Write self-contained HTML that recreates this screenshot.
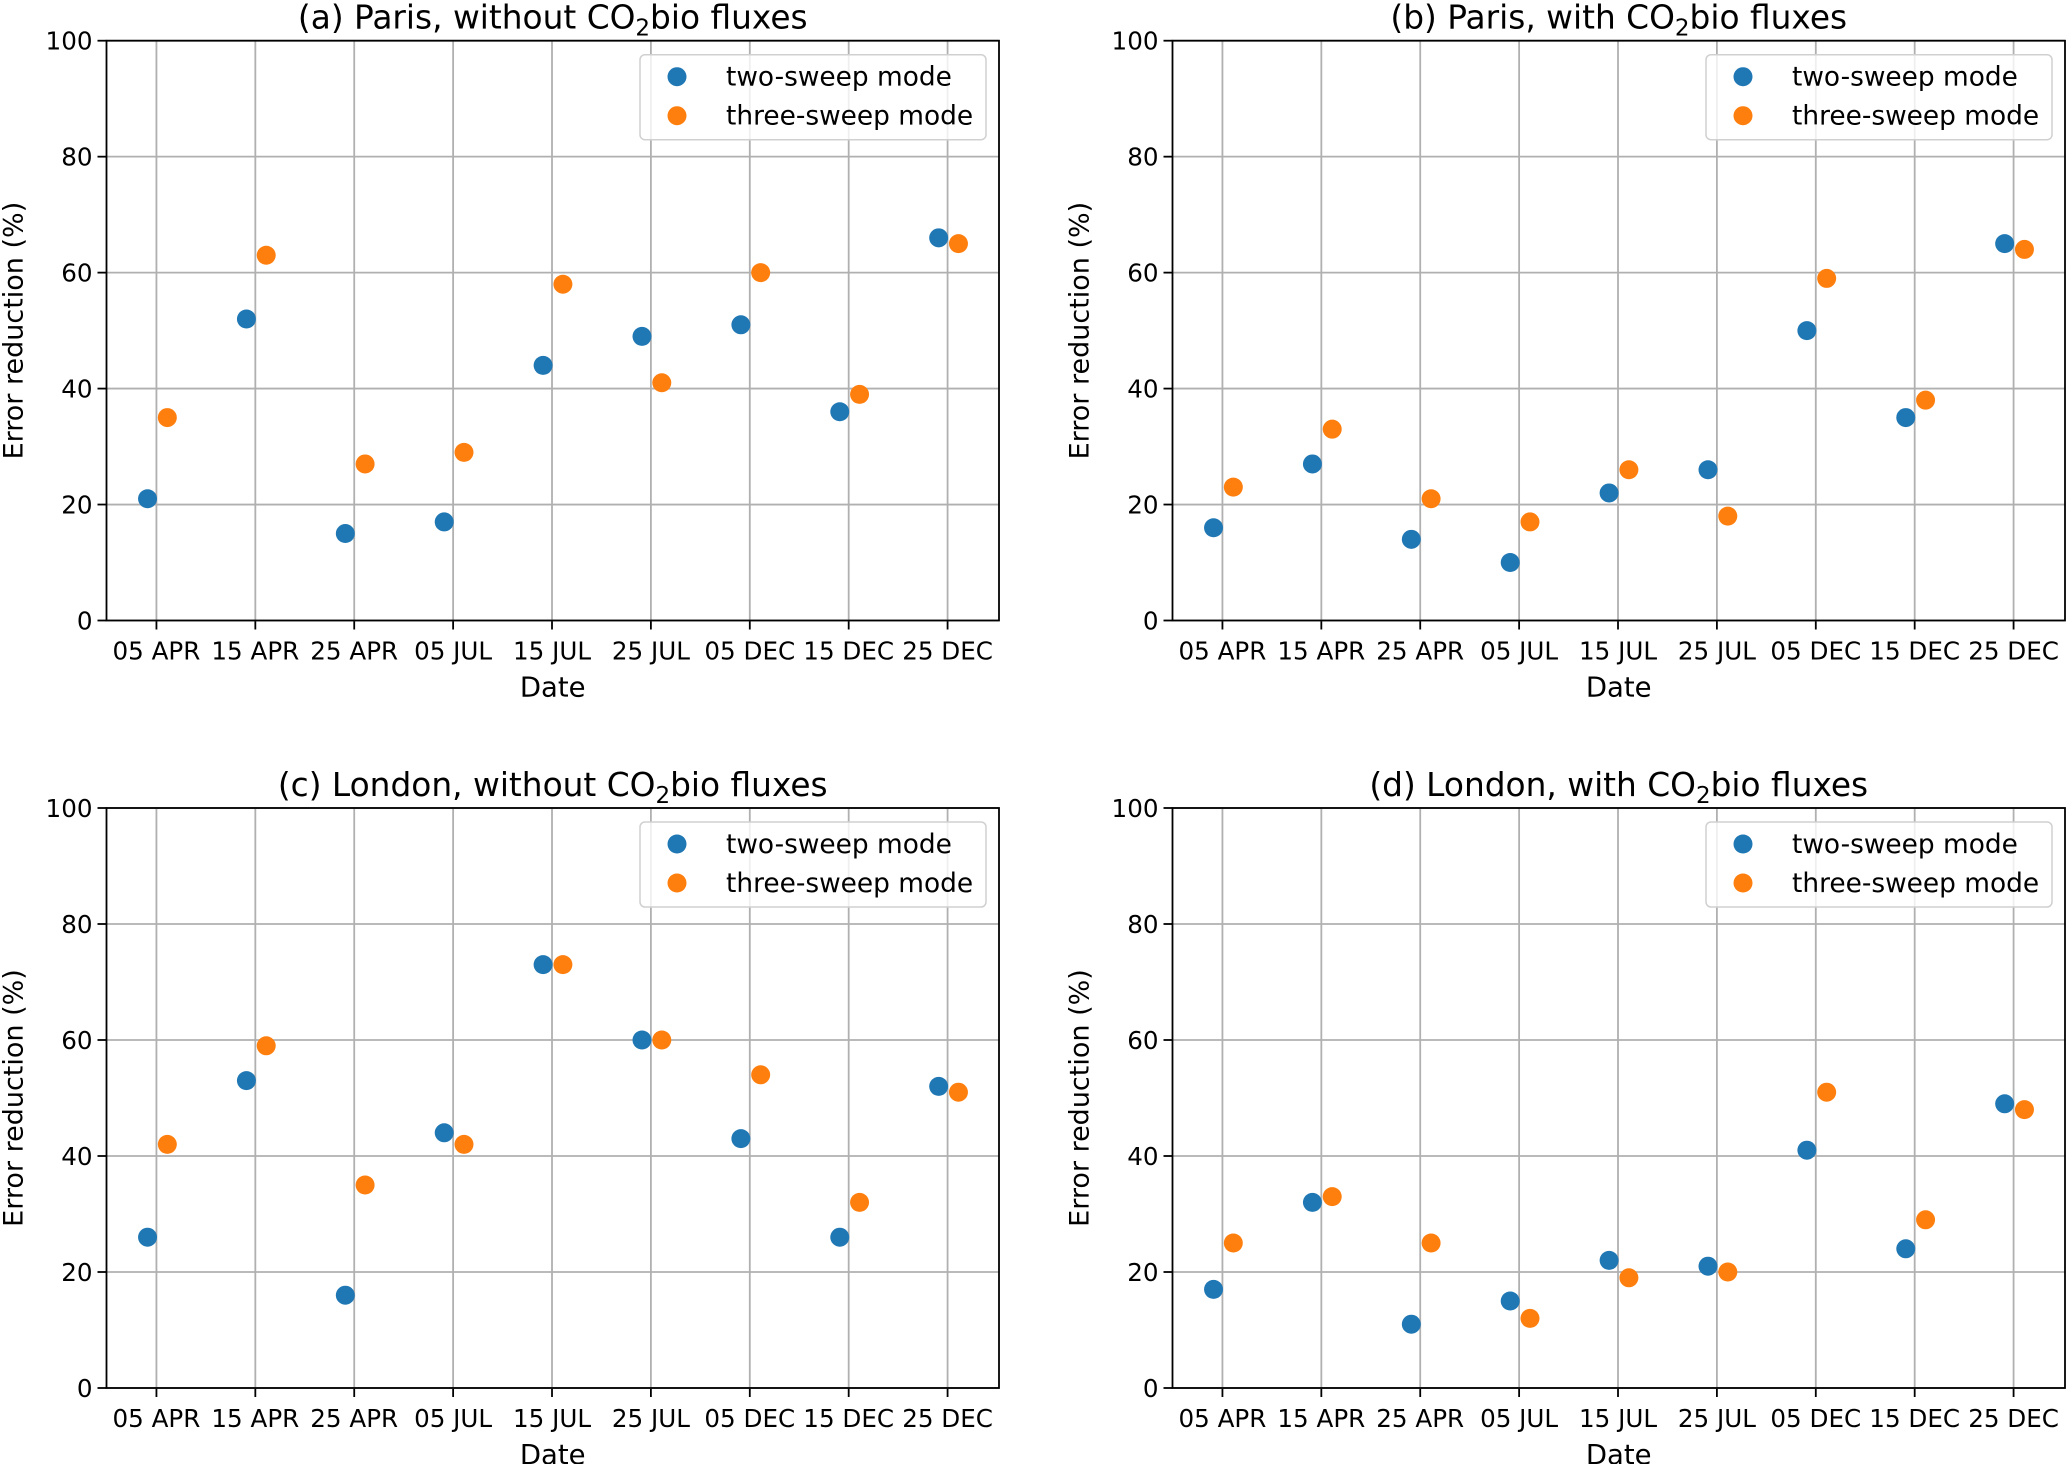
<!DOCTYPE html>
<html><head><meta charset="utf-8"><style>
html,body{margin:0;padding:0;background:#fff;}
svg{display:block;font-family:"DejaVu Sans","Liberation Sans",sans-serif;}
</style></head><body>
<svg id="fig" width="2067" height="1464" viewBox="0 0 2067 1464" xmlns="http://www.w3.org/2000/svg"></svg>
<script>
const dateLabels = ["05 APR","15 APR","25 APR","05 JUL","15 JUL","25 JUL","05 DEC","15 DEC","25 DEC"];
const yTicks = [0,20,40,60,80,100];
const panelTitles = [["(a) Paris, without CO","bio fluxes"],["(b) Paris, with CO","bio fluxes"],["(c) London, without CO","bio fluxes"],["(d) London, with CO","bio fluxes"]];
const twoA = [21,52,15,17,44,49,51,36,66];
const threeA = [35,63,27,29,58,41,60,39,65];
const twoB = [16,27,14,10,22,26,50,35,65];
const threeB = [23,33,21,17,26,18,59,38,64];
const twoC = [26,53,16,44,73,60,43,26,52];
const threeC = [42,59,35,42,73,60,54,32,51];
const twoD = [17,32,11,15,22,21,41,24,49];
const threeD = [25,33,25,12,19,20,51,29,48];

const NS = "http://www.w3.org/2000/svg";
const svg = document.getElementById("fig");
function mk(tag, attrs, parent){
  const e = document.createElementNS(NS, tag);
  for (const k in attrs) e.setAttribute(k, attrs[k]);
  (parent||svg).appendChild(e);
  return e;
}
const panels = [
  {L:106.5,R:999,T:40.7,B:620.5,two:twoA,three:threeA,name:"panel-a"},
  {L:1172.5,R:2065,T:40.7,B:620.5,two:twoB,three:threeB,name:"panel-b"},
  {L:106.5,R:999,T:808,B:1388,two:twoC,three:threeC,name:"panel-c"},
  {L:1172.5,R:2065,T:808,B:1388,two:twoD,three:threeD,name:"panel-d"}
];
const BLUE="#1f77b4", ORANGE="#ff7f0e";
panels.forEach((p,pi)=>{
  const g = mk("g",{});
  
  
  const xmin=-5.05, xmax=85.2;
  const xs = d => p.L + (d - xmin)/(xmax - xmin)*(p.R - p.L);
  const ys = v => p.B - v/100*(p.B - p.T);
  dateLabels.forEach((lab,i)=>{
    const x = xs(i*10);
    const gl = mk("line",{x1:x,x2:x,y1:p.T,y2:p.B,stroke:"#b0b0b0","stroke-width":1.8},g);
    
    
    const tk = mk("line",{x1:x,x2:x,y1:p.B,y2:p.B+9,stroke:"#000","stroke-width":1.8},g);
    
    
    const t = mk("text",{x:x,y:p.B+39,"text-anchor":"middle","font-size":24.6,fill:"#000"},g);
    t.textContent = lab;
    
    
  });
  yTicks.forEach(v=>{
    const y = ys(v);
    const gl = mk("line",{x1:p.L,x2:p.R,y1:y,y2:y,stroke:"#b0b0b0","stroke-width":1.8},g);
    
    
    const tk = mk("line",{x1:p.L-9,x2:p.L,y1:y,y2:y,stroke:"#000","stroke-width":1.8},g);
    
    
    const t = mk("text",{x:p.L-14,y:y+9,"text-anchor":"end","font-size":24.6,fill:"#000"},g);
    t.textContent = v;
    
    
  });
  p.two.forEach((v,i)=>{
    const c = mk("circle",{cx:xs(i*10-0.9),cy:ys(v),r:9.5,fill:BLUE},g);
    
    
  });
  p.three.forEach((v,i)=>{
    const c = mk("circle",{cx:xs(i*10+1.1),cy:ys(v),r:9.5,fill:ORANGE},g);
    
    
  });
  const fr = mk("rect",{x:p.L,y:p.T,width:p.R-p.L,height:p.B-p.T,fill:"none",stroke:"#000","stroke-width":1.8},g);
  
  
  const lx = p.R-359, ly = p.T+14;
  const lg = mk("g",{},g);
  
  
  mk("rect",{x:lx,y:ly,width:346,height:85,rx:5,fill:"rgba(255,255,255,0.8)",stroke:"#d0d0d0","stroke-width":1.5},lg);
  [["two-sweep mode",BLUE],["three-sweep mode",ORANGE]].forEach((e,k)=>{
    const en = mk("g",{},lg);
    
    
    mk("circle",{cx:lx+37,cy:ly+22+k*39,r:9.5,fill:e[1]},en);
    const t = mk("text",{x:lx+86,y:ly+31+k*39,"font-size":26.4,fill:"#000"},en);
    t.textContent = e[0];
  });
  const tt = mk("text",{x:(p.L+p.R)/2,y:p.T-12,"text-anchor":"middle","font-size":32.8,fill:"#000"},g);
  
  
  const s1 = document.createElementNS(NS,"tspan"); s1.textContent = panelTitles[pi][0]; tt.appendChild(s1);
  const s2 = document.createElementNS(NS,"tspan"); s2.setAttribute("font-size","23"); s2.setAttribute("dy","7"); s2.textContent="2"; tt.appendChild(s2);
  const s3 = document.createElementNS(NS,"tspan"); s3.setAttribute("dy","-7"); s3.textContent = panelTitles[pi][1]; tt.appendChild(s3);
  const xl = mk("text",{x:(p.L+p.R)/2,y:p.B+76,"text-anchor":"middle","font-size":27.5,fill:"#000"},g);
  xl.textContent = "Date";
  
  
  const yc = (p.T+p.B)/2, yx = p.L-84;
  const yl = mk("text",{x:yx,y:yc,"text-anchor":"middle","font-size":27,fill:"#000",transform:`rotate(-90 ${yx} ${yc})`},g);
  yl.textContent = "Error reduction (%)";
  
  
});
</script>
</body></html>
